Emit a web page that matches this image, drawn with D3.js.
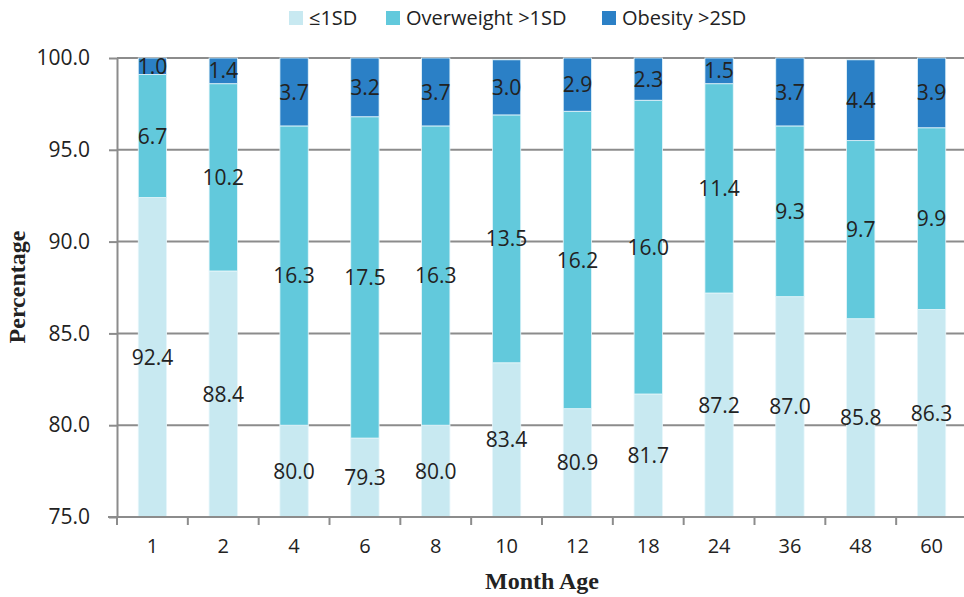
<!DOCTYPE html>
<html><head><meta charset="utf-8">
<script src="https://cdn.jsdelivr.net/npm/d3@7"></script>
<style>body{margin:0;background:#fff}svg{display:block}</style>
</head><body>
<svg id="c" width="964" height="597"></svg>
<script>
const categories = ["1","2","4","6","8","10","12","18","24","36","48","60"];
const normal = [92.4,88.4,80.0,79.3,80.0,83.4,80.9,81.7,87.2,87.0,85.8,86.3];
const overweight = [6.7,10.2,16.3,17.5,16.3,13.5,16.2,16.0,11.4,9.3,9.7,9.9];
const obesity = [1.0,1.4,3.7,3.2,3.7,3.0,2.9,2.3,1.5,3.7,4.4,3.9];
const seriesNames = ["≤1SD","Overweight >1SD","Obesity >2SD"];
const yTicks = [75,80,85,90,95,100];
const colors = ["#c8e9f1","#62c9dc","#2b80c6"];

(function(){
const svg = d3.select("#c");
const left = 117, right = 967, plotTop = 58, bottom = 517;
const x = d3.scaleBand().domain(categories).range([left, right]).paddingInner(0.6).paddingOuter(0.3);
const y = d3.scaleLinear().domain([75,100]).range([bottom, plotTop]);
const font = "'Open Sans', sans-serif";

// gridlines
svg.append("g").selectAll("line").data(yTicks.filter(d=>d>75)).join("line")
  .attr("x1", left).attr("x2", 964).attr("y1", d=>y(d)).attr("y2", d=>y(d))
  .attr("stroke","#8c8c8c").attr("stroke-width",2);

const seriesData = [normal, overweight, obesity];
categories.forEach((c,i)=>{
  let base = 0;
  seriesData.forEach((s,k)=>{
    const lo = base, hi = base + s[i];
    base = hi;
    const vlo = Math.max(lo,75), vhi = Math.min(hi,100);
    if (vhi <= vlo) return;
    svg.append("rect").attr("x", x(c)).attr("width", x.bandwidth())
      .attr("y", y(vhi)).attr("height", y(vlo)-y(vhi))
      .attr("fill", colors[k]).attr("stroke","#e6f6fa").attr("stroke-width",0.8);
    svg.append("text").attr("x", x(c)+x.bandwidth()/2).attr("y", y((vlo+vhi)/2))
      .attr("dy","0.36em").attr("text-anchor","middle")
      .attr("font-family", font).attr("font-size", 21).attr("fill","#222")
      .text(s[i].toFixed(1));
  });
});

// y axis
const ya = svg.append("g").attr("transform",`translate(${left},0)`)
  .call(d3.axisLeft(y).tickValues(yTicks).tickFormat(d3.format(".1f")).tickSizeOuter(0).tickSizeInner(8).tickPadding(19));
ya.select(".domain").attr("stroke","#8c8c8c").attr("stroke-width",2);
ya.selectAll(".tick line").attr("stroke","#8c8c8c").attr("stroke-width",2);
ya.selectAll("text").attr("font-family",font).attr("font-size",21).attr("fill","#222");

// x axis
const xa = svg.append("g").attr("transform",`translate(0,${bottom})`)
  .call(d3.axisBottom(x).tickSize(0).tickPadding(22));
xa.select(".domain").remove();
xa.selectAll("text").attr("font-family",font).attr("font-size",20).attr("fill","#222");
svg.append("line").attr("x1",left-9).attr("x2",964).attr("y1",bottom).attr("y2",bottom)
  .attr("stroke","#8c8c8c").attr("stroke-width",2);
const step = x.step();
svg.append("g").selectAll("line").data(d3.range(categories.length+1)).join("line")
  .attr("x1", d=>left+d*step).attr("x2", d=>left+d*step)
  .attr("y1", bottom).attr("y2", bottom+8).attr("stroke","#8c8c8c").attr("stroke-width",2);

// axis titles
svg.append("text").attr("x",542).attr("y",589).attr("text-anchor","middle")
  .attr("font-family","'Liberation Serif', serif").attr("font-weight","bold").attr("font-size",24).attr("fill","#222")
  .text("Month Age");
svg.append("text").attr("transform","translate(25,287) rotate(-90)").attr("text-anchor","middle")
  .attr("font-family","'Liberation Serif', serif").attr("font-weight","bold").attr("font-size",24).attr("fill","#222")
  .text("Percentage");

// legend
const legX = [289, 386, 602];
const lg = svg.append("g");
seriesNames.forEach((n,k)=>{
  lg.append("rect").attr("x",legX[k]).attr("y",11).attr("width",14).attr("height",14).attr("fill",colors[k]);
  lg.append("text").attr("x",legX[k]+20).attr("y",18).attr("dy","0.36em")
    .attr("font-family",font).attr("font-size",20).attr("fill","#222").text(n);
});
})();
</script>
</body></html>
